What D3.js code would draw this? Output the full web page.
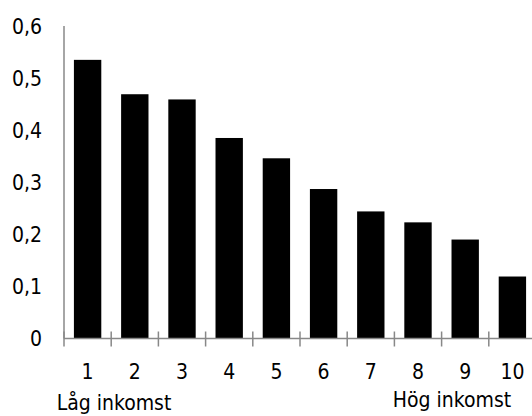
<!DOCTYPE html>
<html lang="sv">
<head>
<meta charset="UTF-8">
<title>Inkomstdecil</title>
<style>
  html, body { margin: 0; background: #fff; }
  text { font-family: "DejaVu Sans Condensed", "DejaVu Sans", sans-serif; font-stretch: condensed; font-size: 21px; fill: #000; }
</style>
</head>
<body>
<svg id="chart" width="532" height="416"></svg>
<script src="https://cdn.jsdelivr.net/npm/d3@7/dist/d3.min.js"></script>
<script>
  // data
  const deciles = ['1', '2', '3', '4', '5', '6', '7', '8', '9', '10']
  const values = [0.535, 0.469, 0.459, 0.385, 0.346, 0.287, 0.244, 0.223, 0.190, 0.119]
  const yTicks = [0, 0.1, 0.2, 0.3, 0.4, 0.5, 0.6]

  const svg = d3.select('#chart')
  const x0 = 64, x1 = 536, y0 = 338.5, y1 = 26

  const x = d3.scaleBand().domain(deciles).range([x0, x1]).paddingInner(0.42).paddingOuter(0.21)
  const y = d3.scaleLinear().domain([0, 0.6]).range([y0, y1])
  const fmt = d => d === 0 ? '0' : d3.format('.1f')(d).replace('.', ',')

  // bars
  svg.append('g').selectAll('rect')
    .data(values)
    .join('rect')
    .attr('x', (d, i) => x(deciles[i]))
    .attr('width', x.bandwidth())
    .attr('y', d => y(d))
    .attr('height', d => y(0) - y(d))
    .attr('fill', '#000')

  // y axis
  svg.append('line')
    .attr('x1', x0).attr('x2', x0)
    .attr('y1', y1).attr('y2', y0)
    .attr('stroke', '#888').attr('stroke-width', 1.5)
  svg.append('g').selectAll('text')
    .data(yTicks)
    .join('text')
    .attr('x', 42)
    .attr('y', d => y(d))
    .attr('dy', '0.36em')
    .attr('text-anchor', 'end')
    .text(fmt)

  // x axis
  svg.append('line')
    .attr('x1', x0).attr('x2', 532)
    .attr('y1', y0).attr('y2', y0)
    .attr('stroke', '#888').attr('stroke-width', 1.5)
  const step = x.step()
  svg.append('g').selectAll('line')
    .data(deciles)
    .join('line')
    .attr('x1', d => x(d) - x.paddingInner() * step / 2)
    .attr('x2', d => x(d) - x.paddingInner() * step / 2)
    .attr('y1', y0 - 7).attr('y2', y0 + 8)
    .attr('stroke', '#888').attr('stroke-width', 1.5)
  svg.append('g').selectAll('text')
    .data(deciles)
    .join('text')
    .attr('x', d => x(d) + x.bandwidth() / 2)
    .attr('y', 379)
    .attr('text-anchor', 'middle')
    .text(d => d)

  svg.append('text').attr('x', 114).attr('y', 410).attr('text-anchor', 'middle').text('Låg inkomst')
  svg.append('text').attr('x', 452).attr('y', 407).attr('text-anchor', 'middle').text('Hög inkomst')
</script>
</body>
</html>
